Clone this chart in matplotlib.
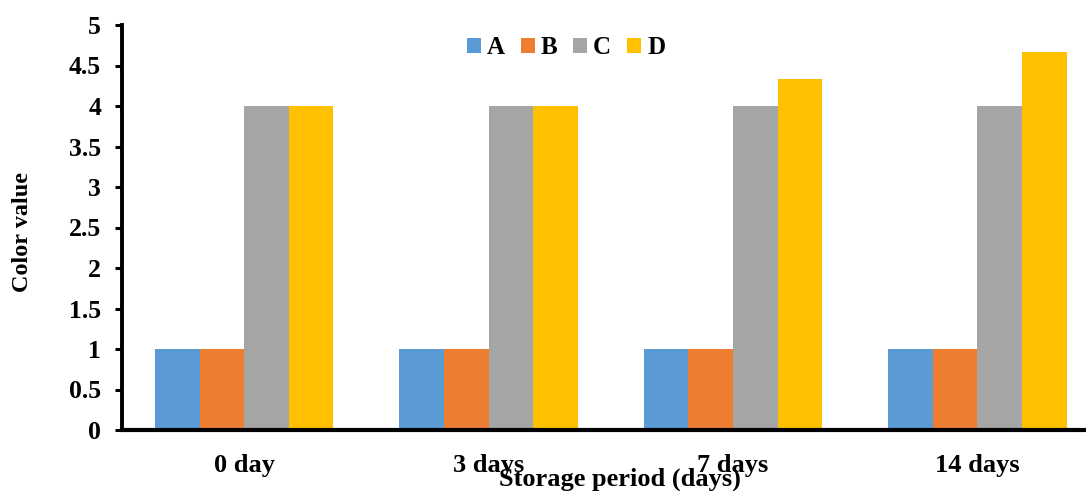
import matplotlib
matplotlib.use("Agg")
import matplotlib.pyplot as plt
import numpy as np

categories = ['0 day', '3 days', '7 days', '14 days']
series_names = ['A', 'B', 'C', 'D']
A = [1, 1, 1, 1]
B = [1, 1, 1, 1]
C = [4, 4, 4, 4]
D = [4, 4, 4.33, 4.67]
colors = ['#5B9BD5', '#ED7D31', '#A5A5A5', '#FFC000']
yticks = [0, 0.5, 1, 1.5, 2, 2.5, 3, 3.5, 4, 4.5, 5]
ytick_labels = ['0', '0.5', '1', '1.5', '2', '2.5', '3', '3.5', '4', '4.5', '5']

plt.rcParams['font.family'] = ['Liberation Serif', 'DejaVu Serif']
plt.rcParams['font.weight'] = 'bold'

W, H = 1086, 491
fig = plt.figure(figsize=(W / 100, H / 100), dpi=100)
left, right, top, bottom = 122, 1099.6, 25, 430
ax = fig.add_axes([left / W, (H - bottom) / H, (right - left) / W, (bottom - top) / H])

x = np.arange(len(categories))
bw = 0.1825
for i, (name, vals) in enumerate(zip(series_names, [A, B, C, D])):
    ax.bar(x + (i - 1.5) * bw, vals, width=bw, color=colors[i], label=name, linewidth=0)

ax.set_xlim(-0.5, len(categories) - 0.5)
ax.set_ylim(0, 5)
ax.set_yticks(yticks)
ax.set_yticklabels(ytick_labels, fontsize=18.5, fontweight='bold')
ax.set_xticks(x)
ax.set_xticklabels(categories, fontsize=19, fontweight='bold')
ax.tick_params(axis='x', length=0, pad=17)
ax.tick_params(axis='y', length=5, width=2.2, direction='out', pad=10)
for s in ['top', 'right']:
    ax.spines[s].set_visible(False)
ax.spines['left'].set_linewidth(2.8)
ax.spines['bottom'].set_linewidth(3)

fig.text(23 / W, (H - 232) / H, 'Color value', rotation=90, ha='center', va='center',
         fontsize=17.5, fontweight='bold')
fig.text(620 / W, (H - 486) / H, 'Storage period (days)', ha='center', va='baseline',
         fontsize=19, fontweight='bold')

leg = fig.legend(loc='center', bbox_to_anchor=(566 / W, (H - 48) / H), ncol=4,
                 frameon=False, prop={'size': 18, 'weight': 'bold'},
                 handlelength=0.56, handleheight=0.56, handletextpad=0.24,
                 columnspacing=0.64, borderpad=0, borderaxespad=0)

fig.savefig('out.png', dpi=100)
